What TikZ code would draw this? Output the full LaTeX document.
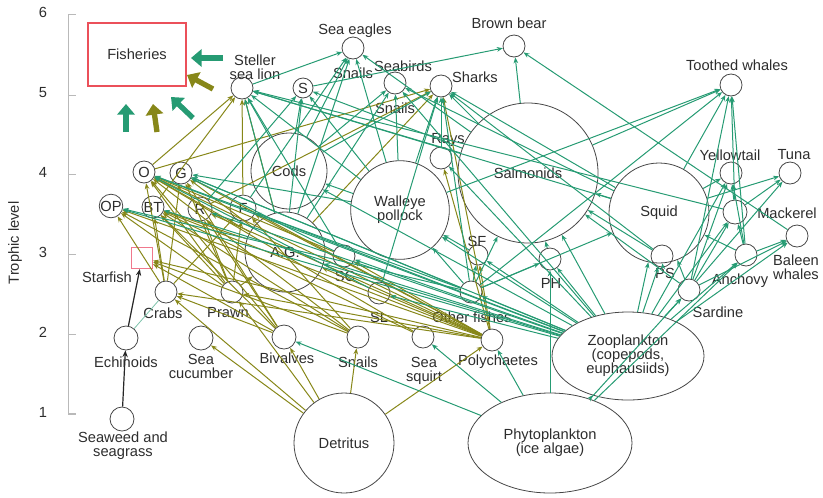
\documentclass[tikz,border=0pt]{standalone}
\usepackage{fontspec}
\setmainfont{Liberation Sans}
\usetikzlibrary{arrows.meta,shapes.geometric}
\definecolor{teal1}{RGB}{38,155,115}
\definecolor{olive1}{RGB}{135,135,25}
\definecolor{ncol}{RGB}{70,70,70}
\definecolor{tcol}{RGB}{45,45,45}
\definecolor{fred}{RGB}{235,80,90}
\definecolor{sred}{RGB}{240,120,140}
\definecolor{axcol}{RGB}{185,185,185}
\begin{document}
\begin{tikzpicture}[x=0.75pt,y=-0.75pt,font=\fontsize{11}{10.5}\selectfont,
  nd/.style={circle,draw=ncol,line width=0.6pt,inner sep=0pt,text=tcol,align=center},
  sz10/.style={nd,minimum size=15pt},
  sz11/.style={nd,minimum size=16.5pt},
  sz12/.style={nd,minimum size=18pt},
  sz13/.style={nd,minimum size=19.5pt},
  lab/.style={text=tcol,inner sep=0pt,align=center},
  tedge/.style={draw=teal1,line width=0.75pt,-{Stealth[length=4.5pt,width=3.5pt]}},
  oedge/.style={draw=olive1,line width=0.75pt,-{Stealth[length=4.5pt,width=3.5pt]}},
  kedge/.style={draw=black!85,line width=0.9pt,-{Stealth[length=5pt,width=4pt]}},
  bigt/.style={draw=teal1,line width=4pt,-{Triangle[length=8pt,width=13pt]}},
  bigo/.style={draw=olive1,line width=4pt,-{Triangle[length=8pt,width=13pt]}}]
\useasboundingbox (0,0) rectangle (823,497);

% axis
\draw[axcol,line width=0.6pt] (68,15) -- (68,413) -- (76,413);
\foreach \yy/\t in {12/6,93/5,172/4,252/3,332/2,412/1}{
  \node[lab] (tick\t) at (43,\yy) {\t};
  \draw[axcol,line width=0.6pt] (68,\yy+2) -- (76,\yy+2);
}
\node[lab,rotate=90] (ylab) at (15,243) {Trophic level};

% fisheries
\node[draw=fred,line width=0.8pt,minimum width=73.5pt,minimum height=47.25pt,inner sep=0pt,text=tcol] (fish) at (137,54.5) {Fisheries};

% nodes
\node[sz11] (steller) at (242,88) {};
\node[sz10] (S) at (303,88) {S};
\node[sz11] (seaeagles) at (353,48) {};
\node[sz11] (seabirds) at (395,83) {};
\node[sz11] (sharks) at (441,86) {};
\node[sz11] (brownbear) at (514,46) {};
\node[sz11] (toothed) at (731,85) {};
\node[sz11] (rays) at (441,158) {};
\node[nd,minimum size=57pt] (cods) at (289,171) {Cods};
\node[nd,minimum size=74pt] (walleye) at (400,210) {Walleye\\pollock};
\node[nd,minimum size=105pt] (salmon) at (528,173) {Salmonids};
\node[nd,minimum size=75pt] (squid) at (659,213) {Squid};
\node[sz11] (yellowtail) at (731,173) {};
\node[sz11] (tuna) at (790,173) {};
\node[sz12] (mackerel) at (735,212) {};
\node[sz11] (baleen) at (797,236) {};
\node[sz11] (anchovy) at (746,255) {};
\node[sz11] (PS) at (662,256) {};
\node[sz11] (sardine) at (689,290) {};
\node[sz11] (PH) at (550,259) {};
\node[sz10] (SF) at (478,255) {};
\node[sz11] (other) at (471,292) {};
\node[nd,minimum size=60pt] (AG) at (285,252) {A.G.};
\node[sz11] (SC) at (344,256) {};
\node[sz11] (SL) at (379,293) {};
\node[sz11] (O) at (144,172) {O};
\node[sz11] (G) at (181,173) {G};
\node[sz11] (OP) at (111,206) {OP};
\node[sz11] (BT) at (153,207) {BT};
\node[sz12] (R) at (200,209) {R};
\node[sz13] (F) at (243,208) {F};
\node[draw=sred,line width=0.8pt,minimum size=15.75pt,inner sep=0pt] (starfish) at (142,258) {};
\node[sz11] (crabs) at (166,292) {};
\node[sz11] (prawn) at (232,292) {};
\node[sz12] (echin) at (126,338) {};
\node[sz12] (seacuc) at (201,338) {};
\node[sz12] (seaweed) at (122,419) {};
\node[sz12] (bivalves) at (284,337) {};
\node[sz11] (snails) at (358,337) {};
\node[sz11] (squirt) at (423,337) {};
\node[sz11] (poly) at (492,340) {};
\node[nd,minimum size=75pt] (detritus) at (344,443) {Detritus};
\node[ellipse,draw=ncol,line width=0.6pt,inner sep=0pt,text=tcol,align=center,minimum width=123pt,minimum height=75pt] (phyto) at (550,443) {Phytoplankton\\(ice algae)};
\node[ellipse,draw=ncol,line width=0.6pt,inner sep=0pt,text=tcol,align=center,minimum width=114pt,minimum height=66pt] (zoo) at (628,356) {Zooplankton\\(copepods,\\euphausiids)};

% labels
\node[lab] (l1) at (255,67) {Steller\\sea lion};
\node[lab] (l2) at (355,31) {Sea eagles};
\node[lab] (l3) at (353,73) {Snails};
\node[lab] (l4) at (403,66) {Seabirds};
\node[lab] (l5) at (395,108) {Snails};
\node[lab] (l6) at (475,77) {Sharks};
\node[lab] (l7) at (509,23) {Brown bear};
\node[lab] (l8) at (737,65) {Toothed whales};
\node[lab] (l9) at (448,140) {Rays};
\node[lab] (l10) at (730,155) {Yellowtail};
\node[lab] (l11) at (794,155) {Tuna};
\node[lab] (l12) at (787,213) {Mackerel};
\node[lab] (l13) at (796,267) {Baleen\\whales};
\node[lab] (l14) at (740,281) {Anchovy};
\node[lab] (l15) at (665,273) {PS};
\node[lab] (l16) at (718,312) {Sardine};
\node[lab] (l17) at (551,283) {PH};
\node[lab] (l18) at (477,241) {SF};
\node[lab] (l19) at (472,317) {Other fishes};
\node[lab] (l20) at (345,276) {SC};
\node[lab] (l21) at (379,317) {SL};
\node[lab] (l22) at (107,277) {Starfish};
\node[lab] (l23) at (163,313) {Crabs};
\node[lab] (l24) at (228,313) {Prawn};
\node[lab] (l25) at (126,362) {Echinoids};
\node[lab] (l26) at (201,366) {Sea\\cucumber};
\node[lab] (l27) at (123,446) {Seaweed and\\seagrass};
\node[lab] (l28) at (287,358) {Bivalves};
\node[lab] (l29) at (358,362) {Snails};
\node[lab] (l30) at (424,371) {Sea\\squirt};
\node[lab] (l31) at (498,362) {Polychaetes};

% olive edges
\foreach \a/\b in {detritus/snails,detritus/poly,detritus/bivalves,detritus/seacuc,detritus/crabs,detritus/prawn,
  crabs/O,crabs/BT,crabs/OP,crabs/G,crabs/F,
  prawn/O,prawn/BT,prawn/R,prawn/F,prawn/G,prawn/AG,prawn/OP,
  bivalves/O,bivalves/starfish,bivalves/BT,bivalves/R,bivalves/crabs,bivalves/G,
  snails/O,snails/BT,snails/starfish,snails/F,snails/OP,
  poly/O,poly/BT,poly/OP,poly/F,poly/R,poly/AG,poly/SF,poly/sharks,poly/crabs,poly/rays,poly/SC,poly/G,poly/prawn,poly/starfish,
  squirt/O,squirt/BT,
  O/steller,O/sharks,F/steller,AG/sharks,AG/steller,AG/O,AG/G,AG/BT,R/sharks,BT/steller,SC/O}
  \draw[oedge] (\a) -- (\b);

% teal edges
\foreach \a/\b in {phyto/zoo,phyto/squirt,phyto/bivalves,phyto/PH,phyto/sardine,phyto/anchovy,phyto/poly,
  zoo/other,zoo/SL,zoo/SC,zoo/AG,zoo/R,zoo/OP,zoo/BT,zoo/G,zoo/F,zoo/O,zoo/PH,zoo/SF,zoo/salmon,zoo/squid,zoo/PS,
  zoo/sardine,zoo/anchovy,zoo/mackerel,zoo/yellowtail,zoo/baleen,zoo/walleye,zoo/cods,zoo/seabirds,zoo/rays,
  other/SF,other/PH,other/salmon,other/squid,other/sharks,other/O,other/OP,other/G,other/walleye,other/toothed,
  SL/O,SL/sharks,SC/steller,SC/G,
  walleye/sharks,walleye/seaeagles,walleye/steller,walleye/S,walleye/seabirds,walleye/toothed,walleye/G,walleye/cods,
  salmon/brownbear,salmon/sharks,salmon/toothed,salmon/steller,salmon/seaeagles,salmon/S,
  squid/toothed,squid/sharks,squid/steller,squid/seabirds,squid/yellowtail,squid/tuna,squid/salmon,
  cods/steller,cods/seaeagles,cods/S,cods/sharks,cods/seabirds,
  mackerel/tuna,mackerel/yellowtail,mackerel/toothed,mackerel/steller,
  sardine/yellowtail,sardine/mackerel,sardine/tuna,sardine/toothed,sardine/baleen,sardine/salmon,sardine/squid,
  anchovy/yellowtail,anchovy/mackerel,anchovy/baleen,anchovy/toothed,anchovy/squid,
  PS/salmon,PS/sharks,PS/squid,
  steller/seaeagles,S/brownbear,baleen/brownbear,
  AG/seaeagles,AG/S,AG/seabirds,AG/steller,F/seaeagles,R/S,
  rays/sharks,PH/salmon,SF/walleye}
  \draw[tedge] (\a) -- (\b);

% black edges
\draw[kedge] (seaweed) -- (echin);
\draw[kedge] (echin) -- (starfish);
\draw[teal1!60,line width=0.6pt] (echin) -- (crabs);

% block arrows to fisheries
\coordinate (t1) at (223,58); \coordinate (h1) at (191,58);
\coordinate (t2) at (213,89); \coordinate (h2) at (187,75);
\coordinate (t3) at (193,118); \coordinate (h3) at (171,97);
\coordinate (t4) at (157,132); \coordinate (h4) at (153,104);
\coordinate (t5) at (126,132); \coordinate (h5) at (126,104);
\draw[bigt] (t1) -- (h1);
\draw[bigo] (t2) -- (h2);
\draw[bigt] (t3) -- (h3);
\draw[bigo] (t4) -- (h4);
\draw[bigt] (t5) -- (h5);
\end{tikzpicture}
\end{document}
